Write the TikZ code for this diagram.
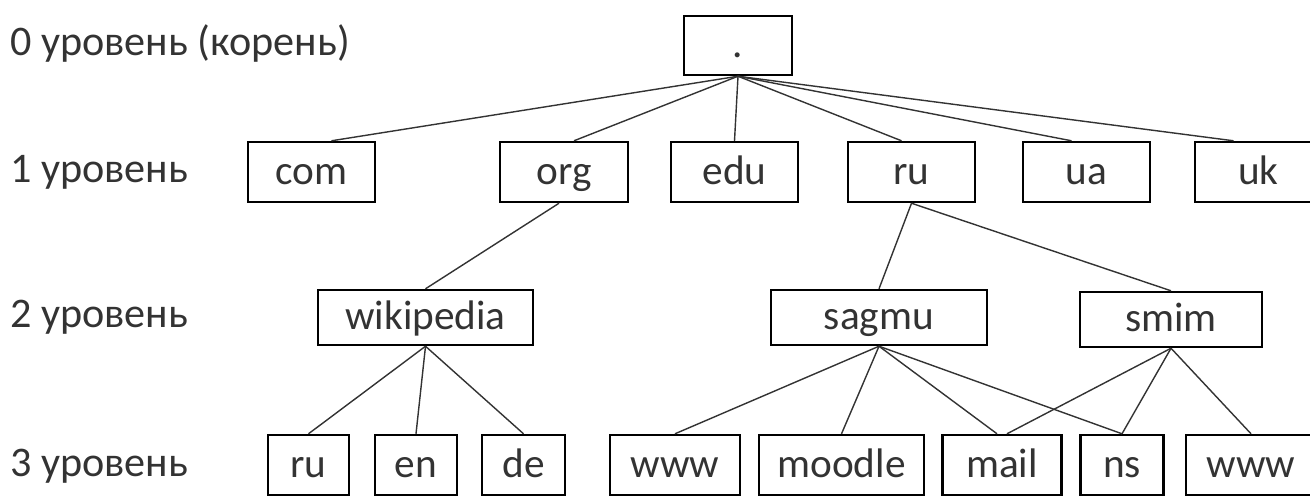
\documentclass[tikz,border=0pt]{standalone}
\usepackage{fontspec}
\setmainfont{Carlito}
\begin{document}
\begin{tikzpicture}[x=0.02cm,y=-0.02cm]

    \tikzset{
      box/.style={
        draw,
        line width=1.4pt,
        inner sep=0pt,
        minimum height=1.2cm,
        text height=17pt,
        text depth=3pt,
        text=black!80,
        font=\fontsize{23.5}{28}\selectfont,
      },
      level/.style={
        anchor=west,
        inner sep=0pt,
        text height=15pt,
        text depth=4pt,
        text=black!80,
        font=\fontsize{24}{28}\selectfont,
      },
      link/.style={
        line width=0.8pt,
        color=black!80,
      },
    }
    \useasboundingbox (0,0) rectangle (1310,495);
    \clip (0,0) rectangle (1310,495);

	\node[level] (l0) at (10,46) {0 уровень (корень)};
	\node[level] (l1) at (10,173) {1 уровень};
	\node[level] (l2) at (10,318) {2 уровень};
	\node[level] (l3) at (10,467) {3 уровень};

	\node[box, minimum width=2.16cm, minimum height=1.18cm] (root) at (738,45.5) {.};

	\node[box, minimum width=2.54cm] (com) at (311.5,172) {com};
	\node[box, minimum width=2.56cm] (org) at (564,172) {org};
	\node[box, minimum width=2.54cm] (edu) at (734.5,172) {edu};
	\node[box, minimum width=2.54cm] (ru) at (911.5,172) {ru};
	\node[box, minimum width=2.54cm] (ua) at (1086.5,172) {ua};
	\node[box, minimum width=2.54cm] (uk) at (1258.5,172) {uk};

	\node[box, minimum width=4.3cm, minimum height=1.1cm] (wikipedia) at (425.5,317.5) {wikipedia};
	\node[box, minimum width=4.32cm, minimum height=1.1cm] (sagmu) at (879,317.5) {sagmu};
	\node[box, minimum width=3.64cm, minimum height=1.1cm] (smim) at (1171,319.5) {smim};

	\node[box, minimum width=1.62cm] (wru) at (308.5,465) {ru};
	\node[box, minimum width=1.64cm] (wen) at (416,465) {en};
	\node[box, minimum width=1.66cm] (wde) at (523.5,465) {de};
	\node[box, minimum width=2.6cm] (swww) at (675,465) {www};
	\node[box, minimum width=3.3cm] (moodle) at (841.5,465) {moodle};
	\node[box, minimum width=2.38cm] (mail) at (1002,465) {mail};
	\node[box, minimum width=1.66cm] (ns) at (1122,465) {ns};
	\node[box, minimum width=2.6cm] (mwww) at (1251,465) {www};

	\draw[link] (root.south) -- ([xshift=0.4cm]com.north);
	\draw[link] (root.south) -- ([xshift=0.2cm]org.north);
	\draw[link] (root.south) -- (edu.north);
	\draw[link] (root.south) -- ([xshift=-0.2cm]ru.north);
	\draw[link] (root.south) -- ([xshift=-0.3cm]ua.north);
	\draw[link] (root.south) -- ([xshift=-0.5cm]uk.north);

	\draw[link] ([xshift=-0.1cm]org.south) -- (wikipedia.north);
	\draw[link] (ru.south) -- (sagmu.north);
	\draw[link] (ru.south) -- (smim.north);

	\draw[link] (wikipedia.south) -- (wru.north);
	\draw[link] (wikipedia.south) -- (wen.north);
	\draw[link] (wikipedia.south) -- (wde.north);

	\draw[link] (sagmu.south) -- (swww.north);
	\draw[link] (sagmu.south) -- (moodle.north);
	\draw[link] (sagmu.south) -- ([xshift=-0.1cm]mail.north);
	\draw[link] (sagmu.south) -- (ns.north);

	\draw[link] (smim.south) -- ([xshift=0.1cm]mail.north);
	\draw[link] (smim.south) -- (ns.north);
	\draw[link] (smim.south) -- (mwww.north);

\end{tikzpicture}
\end{document}
